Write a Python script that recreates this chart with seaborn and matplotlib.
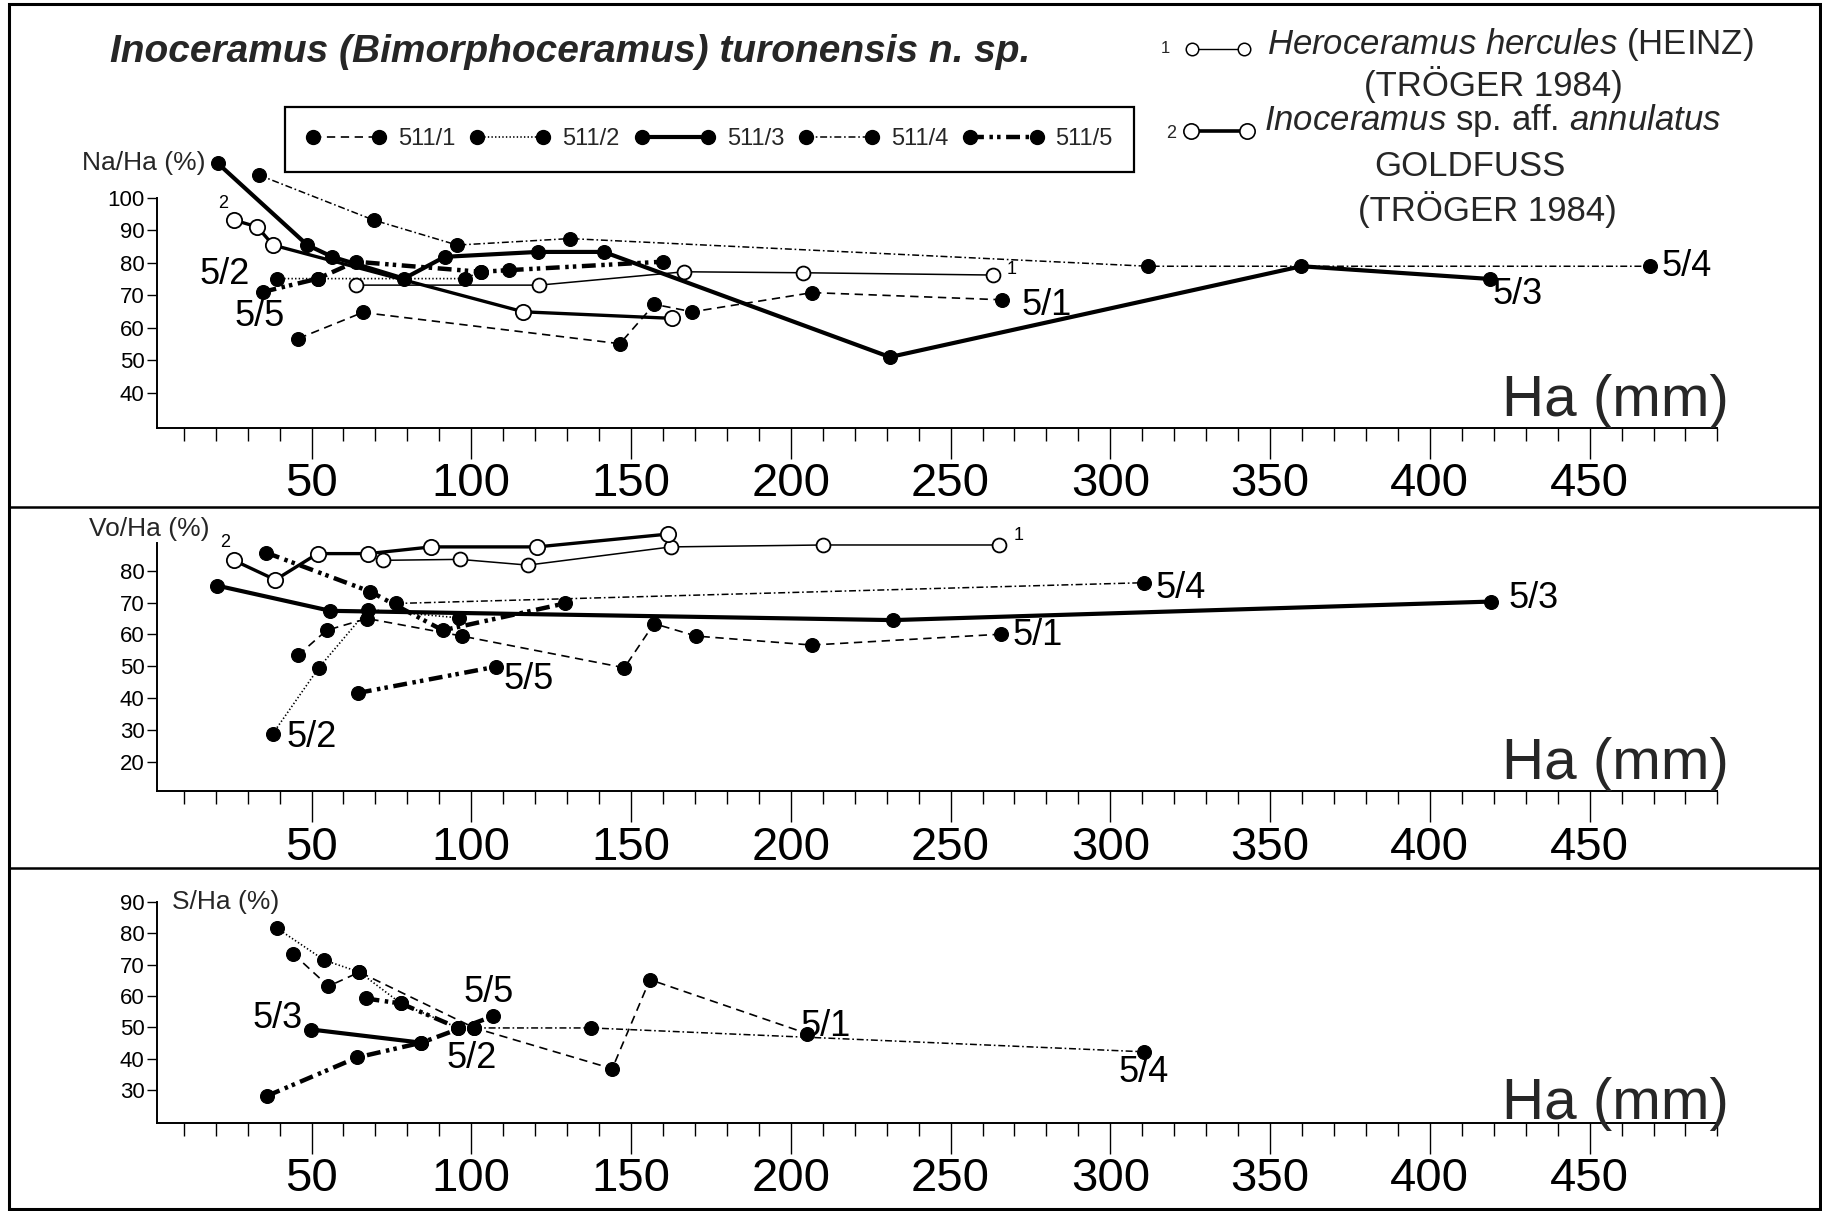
import matplotlib
matplotlib.use("Agg")
import matplotlib.pyplot as plt
from matplotlib.lines import Line2D
from matplotlib.patches import Rectangle
from matplotlib.ticker import MultipleLocator, FixedLocator
from matplotlib import font_manager
import seaborn as sns

# ---------------- data (Ha in mm, ratio in %) ----------------
# Panel 1: Na/Ha
top_511_1_x = [45.9, 66.0, 146.5, 157.3, 169.2, 206.7, 266.0]
top_511_1_y = [56.7, 64.7, 55.1, 67.2, 64.9, 70.8, 68.6]
top_511_2_x = [39.2, 52.0, 97.9, 102.9]
top_511_2_y = [75.1, 75.1, 75.1, 77.2]
top_511_3_x = [20.7, 48.7, 56.5, 78.9, 91.7, 120.8, 141.5, 231.0, 359.8, 418.7]
top_511_3_y = [110.5, 85.4, 81.8, 75.1, 81.8, 83.3, 83.3, 51.0, 78.9, 75.0]
top_511_4_x = [33.6, 69.4, 95.6, 130.8, 311.8, 468.9]
top_511_4_y = [106.9, 93.1, 85.4, 87.4, 78.9, 78.9]
top_511_5_x = [34.7, 52.0, 63.8, 102.9, 111.8, 159.9]
top_511_5_y = [71.0, 75.1, 80.3, 77.2, 77.7, 80.3]
top_her_x = [63.8, 121.3, 166.6, 203.9, 263.2]
top_her_y = [73.1, 73.1, 77.2, 76.9, 76.2]
top_ann_x = [25.7, 33.0, 38.0, 116.3, 162.7]
top_ann_y = [93.1, 91.0, 85.4, 64.9, 62.9]

# Panel 2: Vo/Ha
mid_511_1_x = [45.8, 54.7, 67.4, 97.1, 147.9, 157.2, 170.4, 206.6, 265.9]
mid_511_1_y = [53.5, 61.3, 65.0, 59.5, 49.6, 63.4, 59.5, 56.7, 60.1]
mid_511_2_x = [37.9, 52.3, 67.7, 96.1]
mid_511_2_y = [29.0, 49.6, 67.8, 65.2]
mid_511_3_x = [20.4, 55.9, 232.0, 419.1]
mid_511_3_y = [75.3, 67.4, 64.5, 70.3]
mid_511_4_x = [76.4, 310.6]
mid_511_4_y = [69.7, 76.2]
mid_511_5_x = [64.5, 107.6]
mid_511_5_y = [41.7, 49.9]
mid_511_5b_x = [35.8, 68.4, 91.1, 129.2]
mid_511_5b_y = [85.6, 73.4, 61.3, 69.7]
mid_her_x = [72.4, 96.4, 117.7, 162.5, 210.2, 265.3]
mid_her_y = [83.2, 83.5, 81.7, 87.4, 88.0, 88.0]
mid_ann_x = [25.7, 38.7, 51.9, 67.7, 87.5, 120.6, 161.5]
mid_ann_y = [83.2, 77.1, 85.3, 85.3, 87.4, 87.4, 91.4]

# Panel 3: S/Ha
bot_511_1_x = [44.2, 55.3, 65.0, 101.0, 144.1, 155.9, 205.1]
bot_511_1_y = [73.5, 63.1, 67.6, 49.8, 36.8, 65.2, 48.0]
bot_511_2_x = [39.2, 54.0, 65.0, 78.0, 95.9]
bot_511_2_y = [81.6, 71.4, 67.6, 57.6, 49.8]
bot_511_3_x = [49.9, 84.4]
bot_511_3_y = [49.3, 45.1]
bot_511_4_x = [101.0, 137.6, 310.5]
bot_511_4_y = [49.8, 49.8, 42.2]
bot_511_5_x = [36.0, 64.3, 84.4, 106.7]
bot_511_5_y = [28.1, 40.4, 45.1, 53.5]
bot_511_5b_x = [66.9, 78.0, 95.9]
bot_511_5b_y = [59.2, 57.6, 49.8]

x_major = [50, 100, 150, 200, 250, 300, 350, 400, 450]
legend_labels = ["511/1", "511/2", "511/3", "511/4", "511/5"]

# ---------------- style ----------------
sns.set_theme(style="ticks")
names = {f.name for f in font_manager.fontManager.ttflist}
NARROW = "Liberation Sans Narrow" if "Liberation Sans Narrow" in names else "Liberation Sans"
plt.rcParams['font.family'] = [NARROW, 'DejaVu Sans']
plt.rcParams['mathtext.fontset'] = 'custom'
plt.rcParams['mathtext.rm'] = NARROW
plt.rcParams['mathtext.it'] = NARROW + ':italic'
plt.rcParams['lines.scale_dashes'] = False

STY = {
    "511/1": dict(lw=1.2, ls=(0, (6, 4))),
    "511/2": dict(lw=1.2, ls=(0, (1, 1.6))),
    "511/3": dict(lw=3.0, ls="-"),
    "511/4": dict(lw=1.1, ls=(0, (5, 2, 1.2, 2))),
    "511/5": dict(lw=3.2, ls=(0, (10, 4, 2.5, 3, 2.5, 4))),
}

fig = plt.figure(figsize=(18.22, 12.11), dpi=100)
W, H = 1568.0, 1042.0


def fx(px):
    return px / W


def fy(py):
    return 1 - py / H


x_left, x_right = 1.6, 490.0
ax_l, ax_r = fx(135), fx(130.5 + 490 * 2.75)
ax_top = fig.add_axes([ax_l, fy(368), ax_r - ax_l, fy(170) - fy(368)])
ax_mid = fig.add_axes([ax_l, fy(681), ax_r - ax_l, fy(467) - fy(681)])
ax_bot = fig.add_axes([ax_l, fy(966), ax_r - ax_l, fy(776) - fy(966)])


def series(ax, xs, ys, key, z=3):
    s = STY[key]
    sns.lineplot(x=xs, y=ys, ax=ax, color="black", linewidth=s["lw"], linestyle=s["ls"],
                 marker="o", markersize=10, markerfacecolor="black", markeredgecolor="black",
                 markeredgewidth=0.8, estimator=None, sort=False, clip_on=False,
                 legend=False, zorder=z)


def open_series(ax, xs, ys, lw, ms):
    sns.lineplot(x=xs, y=ys, ax=ax, color="black", linewidth=lw, linestyle="-",
                 marker="o", markersize=ms, markerfacecolor="white", markeredgecolor="black",
                 markeredgewidth=1.3, estimator=None, sort=False, clip_on=False,
                 legend=False, zorder=5)


def style_axis(ax, ylim, yticks):
    ax.set_xlim(x_left, x_right)
    ax.set_ylim(*ylim)
    ax.set_xlabel("")
    ax.set_ylabel("")
    for sp in ["top", "right"]:
        ax.spines[sp].set_visible(False)
    for sp in ["left", "bottom"]:
        ax.spines[sp].set_linewidth(1.4)
        ax.spines[sp].set_color("black")
    ax.xaxis.set_major_locator(FixedLocator(x_major))
    ax.xaxis.set_minor_locator(MultipleLocator(10))
    ax.set_xticks(x_major)
    ax.set_xticklabels([str(v) for v in x_major])
    ax.set_yticks(yticks)
    ax.set_yticklabels([str(v) for v in yticks])
    ax.tick_params(axis="x", which="major", direction="out", length=22, width=1.0,
                   labelsize=34, pad=3, colors="black", bottom=True)
    ax.tick_params(axis="x", which="minor", direction="out", length=9, width=1.0,
                   colors="black", bottom=True)
    ax.tick_params(axis="y", which="major", direction="out", length=7, width=1.0,
                   labelsize=16, pad=2, colors="black", left=True)
    ax.set_facecolor("none")


def lab(ax, txt, x, y, dx, dy, ha="left", size=26):
    ax.annotate(txt, xy=(x, y), xytext=(dx, dy), textcoords="offset points",
                ha=ha, va="center", fontsize=size, color="black", annotation_clip=False)


# ---------------- panel 1 ----------------
series(ax_top, top_511_1_x, top_511_1_y, "511/1")
series(ax_top, top_511_2_x, top_511_2_y, "511/2")
series(ax_top, top_511_4_x, top_511_4_y, "511/4")
series(ax_top, top_511_5_x, top_511_5_y, "511/5")
series(ax_top, top_511_3_x, top_511_3_y, "511/3", z=4)
open_series(ax_top, top_her_x, top_her_y, 1.1, 10)
open_series(ax_top, top_ann_x, top_ann_y, 2.4, 11)
style_axis(ax_top, (29.3, 100), [40, 50, 60, 70, 80, 90, 100])
lab(ax_top, "5/2", top_511_2_x[0], top_511_2_y[0], -38, 3, ha="center")
lab(ax_top, "5/5", top_511_5_x[0], top_511_5_y[0], -2, -18, ha="center")
lab(ax_top, "5/1", top_511_1_x[-1], top_511_1_y[-1], 14, -4)
lab(ax_top, "5/3", top_511_3_x[-1], top_511_3_y[-1], 2, -11)
lab(ax_top, "5/4", top_511_4_x[-1], top_511_4_y[-1], 8, 0)
lab(ax_top, "1", top_her_x[-1], top_her_y[-1], 10, 4, size=13)
lab(ax_top, "2", top_ann_x[0], top_ann_y[0], -8, 12, ha="center", size=13)

# ---------------- panel 2 ----------------
series(ax_mid, mid_511_1_x, mid_511_1_y, "511/1")
series(ax_mid, mid_511_2_x, mid_511_2_y, "511/2")
series(ax_mid, mid_511_4_x, mid_511_4_y, "511/4")
series(ax_mid, mid_511_5_x, mid_511_5_y, "511/5")
series(ax_mid, mid_511_5b_x, mid_511_5b_y, "511/5")
series(ax_mid, mid_511_3_x, mid_511_3_y, "511/3", z=4)
open_series(ax_mid, mid_her_x, mid_her_y, 1.1, 10)
open_series(ax_mid, mid_ann_x, mid_ann_y, 2.4, 11)
style_axis(ax_mid, (10.9, 88.7), [20, 30, 40, 50, 60, 70, 80])
lab(ax_mid, "2", mid_ann_x[0], mid_ann_y[0], -6, 13, ha="center", size=13)
lab(ax_mid, "1", mid_her_x[-1], mid_her_y[-1], 10, 7, size=13)
lab(ax_mid, "5/4", mid_511_4_x[-1], mid_511_4_y[-1], 8, -4)
lab(ax_mid, "5/3", mid_511_3_x[-1], mid_511_3_y[-1], 13, 2)
lab(ax_mid, "5/1", mid_511_1_x[-1], mid_511_1_y[-1], 8, -1)
lab(ax_mid, "5/5", mid_511_5_x[-1], mid_511_5_y[-1], 6, -9)
lab(ax_mid, "5/2", mid_511_2_x[0], mid_511_2_y[0], 10, -3)

# ---------------- panel 3 ----------------
series(ax_bot, bot_511_1_x, bot_511_1_y, "511/1")
series(ax_bot, bot_511_2_x, bot_511_2_y, "511/2")
series(ax_bot, bot_511_4_x, bot_511_4_y, "511/4")
series(ax_bot, bot_511_5b_x, bot_511_5b_y, "511/5")
series(ax_bot, bot_511_5_x, bot_511_5_y, "511/5")
series(ax_bot, bot_511_3_x, bot_511_3_y, "511/3", z=4)
style_axis(ax_bot, (19.6, 90), [30, 40, 50, 60, 70, 80, 90])
lab(ax_bot, "5/3", bot_511_3_x[0], bot_511_3_y[0], -24, 8, ha="center")
lab(ax_bot, "5/5", bot_511_5_x[-1], bot_511_5_y[-1], -3, 17, ha="center")
lab(ax_bot, "5/2", bot_511_2_x[-1], bot_511_2_y[-1], 10, -22, ha="center")
lab(ax_bot, "5/1", bot_511_1_x[-1], bot_511_1_y[-1], 13, 5, ha="center")
lab(ax_bot, "5/4", bot_511_4_x[-1], bot_511_4_y[-1], 0, -15, ha="center")

# ---------------- texts ----------------
fig.text(fx(95), fy(45), "Inoceramus (Bimorphoceramus) turonensis n. sp.",
         family=["Liberation Sans", "DejaVu Sans"], fontsize=28, fontweight="bold",
         fontstyle="italic", ha="left", va="center")
fig.text(fx(177), fy(140), "Na/Ha (%)", fontsize=19, ha="right", va="center")
fig.text(fx(180), fy(455), "Vo/Ha (%)", fontsize=19, ha="right", va="center")
fig.text(fx(148), fy(776), "S/Ha (%)", fontsize=19, ha="left", va="center")
for yb in (358, 670, 963):
    fig.text(fx(1488), fy(yb), "Ha (mm)", fontsize=42, ha="right", va="baseline")

# right-hand key
fig.text(fx(1003), fy(42), "1", fontsize=12, ha="center", va="center")
fig.add_artist(Line2D([fx(1026), fx(1071)], [fy(42), fy(42)], transform=fig.transFigure,
                      color="black", lw=1.0, marker="o", markersize=9,
                      markerfacecolor="white", markeredgecolor="black", markeredgewidth=1.1))
fig.text(fx(1008), fy(115), "2", fontsize=13, ha="center", va="center")
fig.add_artist(Line2D([fx(1025), fx(1073)], [fy(113), fy(113)], transform=fig.transFigure,
                      color="black", lw=2.6, marker="o", markersize=11,
                      markerfacecolor="white", markeredgecolor="black", markeredgewidth=1.2))
fig.text(fx(1090), fy(38), r"$\mathit{Heroceramus\ hercules}$ (HEINZ)", fontsize=25,
         ha="left", va="center")
fig.text(fx(1285), fy(73), "(TRÖGER 1984)", fontsize=25, ha="center", va="center")
fig.text(fx(1088), fy(104), r"$\mathit{Inoceramus}$ sp. aff. $\mathit{annulatus}$", fontsize=25,
         ha="left", va="center")
fig.text(fx(1265), fy(143), "GOLDFUSS", fontsize=25, ha="center", va="center")
fig.text(fx(1280), fy(180), "(TRÖGER 1984)", fontsize=25, ha="center", va="center")

# legend of series 511/x
handles = [Line2D([], [], color="black", lw=STY[k]["lw"], linestyle=STY[k]["ls"], marker="o",
                  markersize=10, markerfacecolor="black", markeredgecolor="black")
           for k in legend_labels]
leg = ax_top.legend(handles, legend_labels, ncol=5, numpoints=2, handlelength=3.4,
                    handletextpad=0.5, columnspacing=1.0, loc="center", mode="expand",
                    bbox_to_anchor=(fx(245), fy(152), fx(976) - fx(245), fy(88) - fy(152)),
                    bbox_transform=fig.transFigure, borderaxespad=0, borderpad=0.9,
                    frameon=True, fancybox=False, framealpha=1, edgecolor="black",
                    fontsize=17)
leg.get_frame().set_linewidth(1.6)

# outer frame and panel separators
fig.add_artist(Rectangle((0.005, 0.002), 0.994, 0.995, transform=fig.transFigure,
                         fill=False, edgecolor="black", lw=2.2))
for yy in (436, 747):
    fig.add_artist(Line2D([0.005, 0.999], [fy(yy), fy(yy)], transform=fig.transFigure,
                          color="black", lw=1.8))

fig.savefig("out.png", dpi=100, facecolor="white")
